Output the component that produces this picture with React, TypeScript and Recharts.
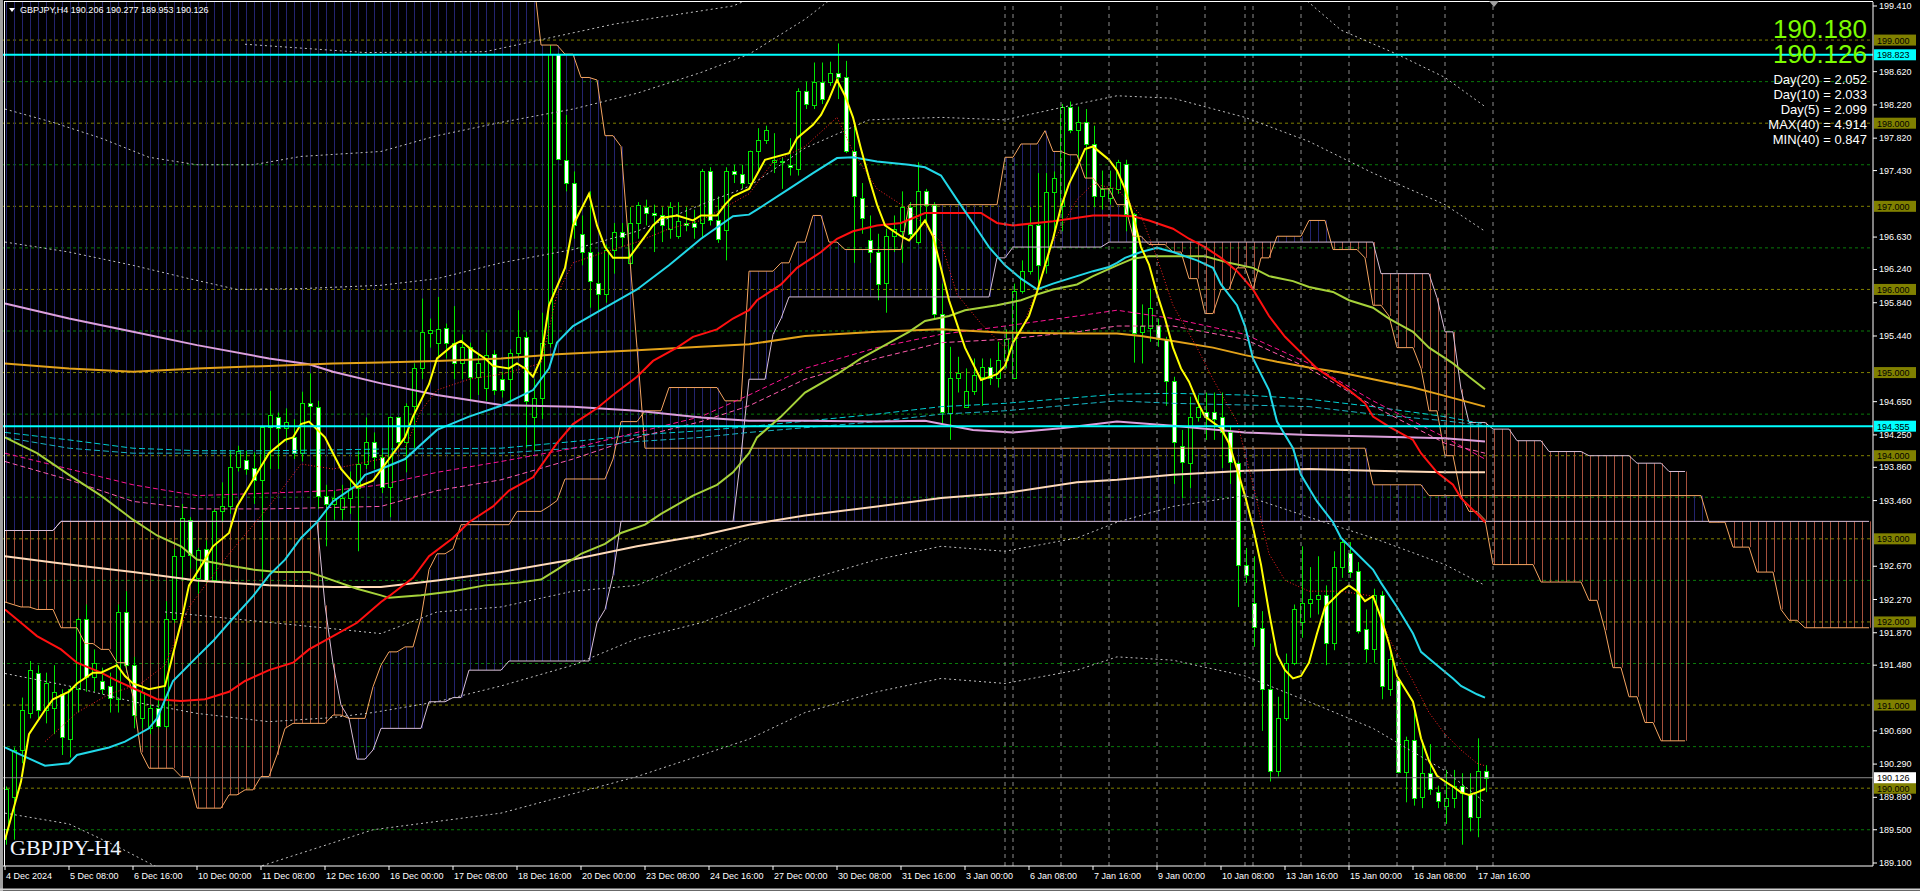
import React from 'react';
import { ComposedChart, Bar, Line, XAxis, YAxis, CartesianGrid, ReferenceLine } from 'recharts';

// GBPJPY H4 candles, bar 0 = 4 Dec 2024 00:00, bar 185 = 17 Jan 20:00
const opens = [
  189.51, 189.89, 190.46, 190.91, 191.39, 190.94, 190.97, 191.13, 190.59, 191.19,
  192.04, 191.34, 191.29, 191.23, 191.07, 192.12, 191.48, 190.84, 190.73, 190.96,
  190.75, 192.04, 192.79, 193.23, 192.53, 192.88, 192.5, 193.34, 193.39, 193.87,
  193.95, 193.85, 193.71, 194.35, 194.47, 194.33, 194.22, 194.03, 194.63, 194.59,
  193.51, 193.42, 193.36, 193.49, 193.61, 193.9, 194.16, 193.98, 193.62, 194.46,
  194.16, 194.6, 195.05, 195.48, 195.35, 195.54, 195.35, 195.11, 195.31, 194.95,
  194.82, 195.22, 194.92, 194.92, 195.24, 195.43, 194.46, 194.7, 195.35, 198.83,
  197.56, 197.28, 196.67, 196.45, 196.08, 195.94, 196.48, 196.69, 196.32, 196.8,
  196.99, 196.92, 196.89, 196.73, 196.64, 196.8, 196.8, 196.8, 197.43, 196.83,
  196.71, 197.42, 197.39, 197.28, 197.67, 197.8, 197.53, 197.53, 197.5, 197.45,
  198.39, 198.22, 198.5, 198.5, 198.6, 198.55, 197.67, 197.1, 196.59, 196.45,
  196.08, 196.64, 196.7, 196.99, 196.57, 197.18, 197.02, 195.7, 194.51, 194.94,
  194.59, 194.78, 194.95, 195.07, 194.93, 195.15, 194.93, 195.98, 196.22, 196.78,
  196.29, 197.17, 197.0, 198.2, 197.92, 198.01, 197.75, 197.12, 197.1, 197.21,
  197.51, 196.91, 195.49, 195.54, 195.57, 195.4, 194.9, 194.12, 193.91, 194.47,
  194.52, 194.52, 194.46, 194.28, 193.91, 192.68, 192.23, 191.93, 191.19, 190.21,
  190.84, 191.51, 192.0, 192.23, 192.28, 192.32, 191.75, 192.66, 192.83, 192.61,
  191.91, 191.67, 192.32, 191.19, 191.3, 190.2, 190.58, 189.9, 190.18, 189.95,
  189.79, 189.88, 190.03, 189.93, 189.65, 190.206,
];
const highs = [
  190.02, 190.49, 191.09, 191.53, 191.48, 191.39, 191.48, 191.19, 191.23, 192.05,
  192.21, 191.67, 191.45, 191.39, 192.21, 192.37, 191.58, 191.19, 191.0, 191.07,
  192.25, 192.88, 193.42, 193.26, 192.89, 192.98, 193.36, 193.68, 194.06, 194.12,
  194.06, 194.04, 194.36, 194.78, 194.52, 194.57, 194.44, 194.77, 194.99, 194.66,
  193.65, 193.58, 193.65, 193.81, 194.06, 194.46, 194.28, 194.09, 194.47, 194.47,
  194.63, 195.11, 195.89, 195.65, 195.91, 195.59, 195.8, 195.46, 195.36, 195.21,
  195.48, 195.27, 195.01, 195.28, 195.75, 195.49, 194.92, 195.72, 198.94, 198.84,
  198.1, 197.42, 196.89, 197.18, 196.45, 196.54, 196.8, 196.8, 196.99, 197.05,
  197.08, 197.02, 196.99, 197.05, 197.05, 196.99, 196.96, 197.45, 197.47, 197.12,
  197.47, 197.5, 197.5, 197.67, 197.94, 197.97, 197.88, 197.59, 197.82, 198.42,
  198.5, 198.73, 198.73, 198.74, 198.96, 198.75, 197.98, 197.28, 196.89, 196.67,
  196.73, 196.89, 197.18, 197.05, 197.53, 197.21, 197.05, 196.07, 195.31, 195.19,
  195.05, 195.17, 195.17, 195.17, 195.37, 195.52, 196.07, 196.35, 196.99, 197.4,
  197.4, 197.42, 198.23, 198.26, 198.2, 198.17, 197.97, 197.43, 197.43, 197.56,
  197.56, 196.92, 195.82, 196.01, 195.65, 195.43, 194.95, 194.31, 194.71, 194.73,
  194.76, 194.76, 194.76, 194.36, 193.93, 192.89, 192.79, 192.13, 191.74, 191.1,
  191.62, 192.21, 192.91, 192.66, 192.79, 192.44, 192.85, 193.0, 192.96, 192.72,
  192.15, 192.4, 192.37, 191.64, 191.32, 190.62, 190.97, 190.56, 190.53, 190.03,
  190.22, 190.22, 190.18, 190.18, 190.6, 190.277,
];
const lows = [
  189.32, 189.38, 190.3, 190.84, 190.84, 190.78, 190.65, 190.4, 190.37, 190.91,
  191.16, 191.16, 191.13, 190.91, 190.91, 191.39, 190.72, 190.72, 190.65, 190.72,
  190.72, 191.99, 192.5, 192.64, 192.34, 192.47, 192.47, 193.2, 193.3, 193.81,
  193.77, 193.42, 192.53, 193.84, 193.84, 194.16, 193.96, 193.93, 194.41, 193.36,
  192.91, 193.23, 193.23, 193.3, 192.85, 193.84, 193.84, 193.55, 193.26, 194.09,
  193.8, 194.09, 194.92, 195.3, 195.17, 195.17, 194.92, 194.92, 194.66, 194.73,
  194.66, 194.73, 194.7, 194.66, 195.17, 194.09, 194.06, 194.44, 195.3, 197.56,
  197.18, 196.61, 196.29, 195.78, 195.75, 195.84, 196.19, 196.51, 196.26, 196.61,
  196.77, 196.45, 196.57, 196.61, 196.61, 196.7, 196.61, 196.63, 196.77, 196.56,
  196.35, 197.28, 197.21, 197.21, 197.43, 197.75, 197.4, 197.21, 197.37, 197.37,
  198.17, 198.17, 198.23, 198.45, 198.29, 197.64, 196.32, 196.67, 196.32, 195.87,
  195.72, 196.45, 196.32, 196.61, 196.54, 196.77, 195.65, 194.38, 194.19, 194.76,
  194.59, 194.73, 194.6, 194.85, 194.82, 195.05, 194.92, 195.95, 196.18, 196.0,
  196.19, 196.64, 196.7, 197.88, 197.56, 197.34, 196.99, 196.96, 197.02, 197.15,
  196.7, 195.12, 195.11, 195.37, 195.31, 194.6, 193.66, 193.49, 193.61, 194.41,
  194.19, 194.19, 193.85, 193.66, 192.18, 192.47, 191.7, 190.69, 190.08, 190.14,
  190.81, 191.48, 191.81, 192.05, 192.09, 191.48, 191.66, 192.53, 192.53, 191.86,
  191.51, 191.51, 191.07, 191.11, 190.18, 189.83, 189.79, 189.76, 189.92, 189.76,
  189.57, 189.76, 189.32, 189.48, 189.41, 189.953,
];
const closes = [
  189.99, 190.46, 190.94, 191.42, 190.94, 191.26, 191.16, 190.62, 191.19, 192.04,
  191.34, 191.51, 191.19, 191.09, 192.12, 191.48, 190.88, 191.16, 190.96, 190.75,
  192.04, 192.79, 193.25, 192.81, 192.87, 192.5, 193.34, 193.39, 193.87, 194.06,
  193.84, 193.71, 194.35, 194.49, 194.33, 194.4, 194.03, 194.63, 194.6, 193.52,
  193.42, 193.49, 193.49, 193.61, 193.9, 194.16, 193.98, 193.62, 194.46, 194.16,
  194.6, 195.05, 195.49, 195.51, 195.52, 195.35, 195.11, 195.31, 194.95, 195.12,
  195.21, 194.79, 194.79, 195.24, 195.43, 194.66, 194.7, 195.35, 198.83, 197.57,
  197.28, 196.77, 196.45, 196.1, 195.95, 196.48, 196.69, 196.63, 196.8, 197.01,
  196.92, 196.89, 196.77, 196.99, 196.82, 196.77, 196.75, 197.42, 196.83, 196.61,
  197.42, 197.39, 197.28, 197.66, 197.8, 197.92, 197.56, 197.55, 197.47, 198.39,
  198.23, 198.5, 198.29, 198.6, 198.56, 197.67, 197.13, 196.86, 196.45, 196.07,
  196.64, 196.73, 196.99, 196.67, 197.18, 197.02, 195.7, 194.52, 194.94, 195.0,
  194.78, 194.97, 195.07, 194.93, 195.15, 195.4, 195.98, 196.22, 196.78, 196.29,
  197.17, 197.34, 198.2, 197.92, 198.01, 197.75, 197.12, 197.21, 197.22, 197.53,
  196.91, 195.48, 195.56, 195.78, 195.4, 194.9, 194.16, 193.93, 194.47, 194.59,
  194.47, 194.44, 194.28, 193.93, 192.69, 192.56, 191.94, 191.19, 190.21, 190.84,
  191.51, 192.15, 192.23, 192.28, 192.32, 191.75, 192.66, 192.96, 192.6, 191.89,
  191.67, 192.32, 191.23, 191.56, 190.2, 190.58, 189.88, 190.18, 189.99, 189.84,
  189.88, 190.03, 189.94, 189.65, 190.21, 190.126,
];

// moving averages, [bar, price]
const fastMa = [[0,189.38],[2,190.08],[3,190.65],[5,190.94],[6,191.07],[8,191.16],[9,191.26],[11,191.39],[12,191.39],[14,191.48],[15,191.35],[16,191.26],[18,191.19],[20,191.23],[21,191.61],[22,191.99],[23,192.44],[25,192.75],[26,192.91],[28,193.07],[29,193.39],[31,193.71],[33,194.03],[35,194.19],[36,194.22],[37,194.38],[38,194.41],[40,194.22],[41,194.03],[42,193.84],[44,193.62],[46,193.7],[48,193.96],[50,194.22],[51,194.47],[53,194.86],[54,195.17],[56,195.33],[57,195.38],[58,195.3],[60,195.17],[61,195.08],[63,195.05],[64,195.11],[65,195.05],[66,194.95],[67,195.17],[68,195.81],[70,196.26],[71,196.77],[73,197.15],[74,196.77],[75,196.51],[76,196.38],[78,196.38],[79,196.51],[81,196.77],[82,196.86],[84,196.89],[86,196.83],[87,196.89],[89,196.89],[90,197.02],[91,197.12],[93,197.21],[95,197.56],[98,197.64],[99,197.82],[101,197.98],[102,198.1],[103,198.29],[104,198.52],[105,198.33],[106,198.07],[107,197.69],[108,197.34],[109,197.02],[110,196.77],[112,196.64],[113,196.59],[114,196.7],[115,196.83],[116,196.64],[118,195.87],[120,195.3],[122,194.91],[124,194.98],[125,195.08],[126,195.36],[128,195.68],[129,195.97],[131,196.61],[132,196.99],[133,197.27],[134,197.47],[135,197.69],[136,197.72],[137,197.64],[138,197.56],[139,197.43],[140,197.21],[141,196.89],[142,196.51],[143,196.3],[144,195.95],[145,195.65],[146,195.3],[147,195.05],[148,194.89],[149,194.66],[150,194.47],[152,194.33],[153,194.15],[154,193.84],[155,193.52],[156,193.14],[157,192.69],[158,192.12],[159,191.61],[160,191.42],[161,191.32],[162,191.35],[163,191.51],[164,191.86],[165,192.18],[167,192.37],[168,192.44],[169,192.37],[170,192.25],[171,192.31],[172,192.05],[173,191.74],[174,191.35],[176,191.04],[177,190.6],[178,190.33],[179,190.15],[180,190.08],[181,190.02],[182,189.95],[183,189.92],[184,189.95],[185,189.99]];
const fastDot = [[5,190.56],[9,190.91],[13,191.13],[17,191.26],[20,191.48],[23,192.18],[28,192.82],[33,193.39],[37,193.9],[41,193.84],[47,193.96],[50,194.09],[52,194.54],[54,194.79],[58,194.92],[62,194.98],[67,195.11],[69,195.94],[71,196.32],[75,196.45],[79,196.57],[83,196.73],[87,196.83],[93,197.15],[96,197.53],[100,197.72],[104,198.07],[106,197.66],[109,197.21],[113,196.96],[117,196.57],[119,195.94],[122,195.59],[125,195.3],[127,195.49],[129,196.0],[131,196.57],[134,197.08],[136,197.27],[139,197.21],[142,196.89],[144,196.38],[146,195.81],[149,195.3],[151,194.92],[154,194.41],[156,193.65],[158,192.82],[160,192.5],[163,192.37],[167,192.37],[171,192.31],[173,191.8],[176,191.29],[178,190.91],[180,190.65],[182,190.46],[184,190.3],[185,190.27]];
const ma20 = [[0,190.49],[2,190.4],[5,190.27],[8,190.3],[9,190.4],[13,190.49],[15,190.56],[18,190.72],[19,190.84],[21,191.29],[24,191.58],[26,191.77],[28,191.99],[31,192.31],[33,192.56],[35,192.75],[37,193.01],[39,193.2],[41,193.45],[44,193.65],[45,193.77],[47,193.84],[50,193.96],[54,194.31],[58,194.47],[62,194.6],[66,194.79],[68,195.05],[69,195.36],[71,195.56],[75,195.78],[79,196.0],[83,196.29],[87,196.61],[91,196.88],[93,196.9],[94,196.96],[98,197.21],[101,197.4],[104,197.58],[106,197.59],[109,197.54],[113,197.5],[115,197.47],[117,197.37],[119,197.08],[121,196.8],[123,196.51],[125,196.29],[127,196.13],[129,196.0],[131,196.07],[134,196.16],[136,196.22],[138,196.27],[139,196.32],[140,196.38],[142,196.45],[144,196.5],[146,196.45],[149,196.35],[151,196.26],[152,196.06],[154,195.81],[155,195.56],[156,195.17],[158,194.79],[159,194.41],[161,194.09],[162,193.77],[164,193.45],[166,193.2],[167,193.01],[169,192.82],[171,192.63],[172,192.47],[174,192.18],[176,191.86],[177,191.64],[179,191.48],[181,191.32],[182,191.23],[184,191.13],[185,191.09]];
const ma50 = [[0,192.15],[2,191.99],[4,191.83],[7,191.67],[9,191.51],[12,191.39],[14,191.29],[17,191.16],[19,191.07],[22,191.05],[25,191.07],[28,191.16],[30,191.29],[33,191.42],[36,191.51],[38,191.67],[41,191.83],[44,191.99],[47,192.24],[48,192.31],[51,192.53],[53,192.79],[56,193.01],[58,193.2],[61,193.39],[63,193.58],[66,193.74],[69,194.15],[71,194.38],[74,194.57],[76,194.73],[79,194.95],[81,195.14],[84,195.3],[86,195.43],[89,195.52],[91,195.65],[93,195.75],[94,195.87],[97,196.06],[99,196.26],[102,196.45],[104,196.61],[106,196.7],[109,196.77],[112,196.8],[115,196.92],[122,196.92],[124,196.8],[126,196.77],[131,196.82],[136,196.89],[139,196.89],[141,196.88],[143,196.83],[146,196.73],[148,196.61],[150,196.51],[152,196.38],[154,196.22],[156,196.0],[158,195.68],[160,195.43],[162,195.24],[164,195.05],[166,194.92],[168,194.79],[170,194.63],[171,194.47],[173,194.35],[176,194.19],[177,194.03],[179,193.8],[181,193.65],[182,193.49],[184,193.3],[185,193.2]];
const ma100 = [[0,194.22],[4,194.03],[8,193.77],[12,193.52],[16,193.23],[19,193.04],[22,192.91],[24,192.75],[28,192.68],[31,192.63],[34,192.6],[38,192.6],[41,192.5],[44,192.4],[47,192.32],[48,192.29],[52,192.32],[56,192.37],[60,192.44],[64,192.47],[67,192.51],[69,192.63],[72,192.82],[75,192.94],[77,193.07],[80,193.17],[82,193.3],[86,193.52],[89,193.65],[91,193.8],[93,194.03],[94,194.22],[97,194.47],[100,194.76],[104,194.98],[107,195.17],[110,195.33],[113,195.49],[115,195.62],[118,195.68],[120,195.75],[124,195.81],[127,195.87],[129,195.94],[131,196.0],[134,196.06],[136,196.16],[139,196.29],[141,196.37],[143,196.4],[150,196.4],[153,196.32],[156,196.26],[158,196.16],[161,196.1],[163,196.03],[166,195.97],[168,195.87],[171,195.78],[173,195.65],[176,195.49],[178,195.3],[181,195.11],[183,194.95],[185,194.8]];
const ma200 = [[0,195.11],[8,195.05],[16,195.01],[24,195.05],[33,195.08],[41,195.11],[47,195.12],[54,195.14],[62,195.17],[69,195.22],[79,195.27],[87,195.31],[93,195.34],[100,195.44],[109,195.49],[117,195.52],[125,195.48],[134,195.47],[139,195.47],[142,195.44],[146,195.38],[151,195.3],[155,195.21],[159,195.13],[163,195.06],[167,195.0],[171,194.92],[176,194.82],[180,194.72],[185,194.59]];
const ma300 = [[0,195.83],[8,195.65],[16,195.49],[24,195.33],[33,195.17],[38,195.1],[41,195.01],[47,194.87],[54,194.73],[62,194.61],[71,194.59],[79,194.54],[87,194.46],[93,194.42],[100,194.42],[109,194.41],[115,194.42],[121,194.31],[126,194.28],[132,194.33],[139,194.41],[146,194.36],[155,194.28],[163,194.25],[171,194.23],[180,194.21],[185,194.17]];
const ma500 = [[0,192.79],[8,192.69],[16,192.6],[24,192.5],[33,192.44],[41,192.42],[47,192.42],[54,192.5],[62,192.6],[71,192.75],[79,192.91],[87,193.04],[93,193.17],[100,193.28],[109,193.39],[117,193.49],[125,193.55],[134,193.68],[139,193.71],[146,193.77],[155,193.82],[163,193.84],[171,193.82],[180,193.8],[185,193.8]];

// envelopes (dashed)
const pinkUp = [[0,194.03],[8,193.84],[16,193.65],[24,193.52],[33,193.55],[41,193.58],[47,193.65],[54,193.8],[62,193.93],[71,194.09],[79,194.28],[87,194.47],[93,194.73],[100,195.05],[109,195.3],[117,195.46],[125,195.56],[134,195.68],[139,195.75],[146,195.65],[155,195.46],[163,195.11],[171,194.66],[180,194.22],[185,193.96]];
const pinkDn = [[0,193.93],[8,193.71],[16,193.45],[24,193.36],[33,193.36],[47,193.39],[54,193.58],[62,193.71],[71,193.96],[79,194.22],[87,194.41],[93,194.6],[100,194.92],[109,195.17],[117,195.36],[125,195.4],[134,195.49],[139,195.56],[146,195.56],[155,195.4],[163,195.05],[171,194.6],[180,194.15],[185,194.03]];
const tealUp = [[0,194.28],[8,194.19],[16,194.09],[24,194.06],[33,194.06],[41,194.07],[47,194.08],[62,194.09],[71,194.17],[79,194.25],[87,194.3],[93,194.35],[109,194.5],[117,194.59],[125,194.63],[134,194.7],[139,194.74],[146,194.75],[155,194.73],[163,194.68],[171,194.59],[180,194.47],[185,194.38]];
const tealDn = [[0,194.22],[8,194.09],[16,194.03],[47,194.03],[62,194.03],[71,194.09],[79,194.17],[87,194.22],[93,194.28],[109,194.41],[117,194.5],[125,194.54],[139,194.66],[146,194.63],[155,194.61],[163,194.59],[171,194.5],[180,194.42],[185,194.36]];

// bands (dotted white)
const bandTop0 = [[30,198.95],[45,198.85],[60,198.86],[76,199.19],[91,199.41],[98,199.7]];
const bandTop1 = [[0,198.17],[6,198.01],[12,197.82],[18,197.59],[24,197.5],[31,197.5],[37,197.6],[47,197.66],[54,197.85],[62,198.01],[71,198.17],[79,198.36],[87,198.61],[93,198.83],[100,199.25],[106,199.7],[160,199.7],[167,199.12],[174,198.83],[180,198.55],[185,198.2]];
const bandTop2 = [[0,196.57],[8,196.45],[16,196.29],[23,196.13],[29,196.0],[37,196.01],[47,196.05],[54,196.13],[62,196.32],[71,196.48],[79,196.7],[87,197.02],[93,197.24],[100,197.7],[108,198.04],[117,198.07],[125,198.04],[134,198.23],[139,198.33],[146,198.3],[155,198.07],[163,197.78],[171,197.4],[180,197.02],[185,196.7]];
const bandLow1 = [[0,191.38],[8,191.23],[16,191.04],[24,190.9],[33,190.8],[41,190.85],[46,190.91],[54,191.04],[62,191.23],[71,191.48],[79,191.8],[87,191.99],[93,192.21],[100,192.5],[109,192.75],[117,192.91],[125,192.85],[134,193.01],[139,193.2],[146,193.39],[155,193.52],[163,193.26],[171,193.01],[180,192.69],[185,192.44]];
const bandLowMid = [[20,192.12],[47,191.86],[54,192.12],[62,192.18],[71,192.37],[79,192.44],[93,193.01]];
const bandLow2 = [[0,189.7],[8,189.57],[14,189.3],[20,189.0],[30,189.0],[38,189.25],[46,189.5],[62,189.7],[79,190.14],[93,190.59],[100,190.91],[109,191.16],[117,191.32],[125,191.26],[134,191.42],[139,191.58],[146,191.54],[155,191.35],[163,191.04],[171,190.72],[180,190.21],[185,189.83]];

// ichimoku spans as [first bar, level] steps
const spanA = [[0,192.24],[1,192.21],[2,192.18],[4,192.15],[7,191.93],[10,191.74],[12,191.67],[14,191.51],[16,191.1],[17,190.43],[18,190.24],[22,190.14],[24,189.76],[28,189.92],[30,189.98],[32,190.14],[34,190.4],[35,190.72],[36,190.78],[41,190.88],[43,190.84],[46,191.22],[47,191.48],[48,191.64],[50,191.7],[52,192.05],[53,192.63],[54,192.82],[56,192.88],[57,193.17],[64,193.33],[68,193.39],[69,193.46],[70,193.72],[76,193.96],[77,194.41],[80,194.54],[83,194.82],[90,194.66],[93,196.22],[97,196.32],[99,196.57],[101,196.89],[103,196.57],[105,196.48],[113,197.02],[125,197.59],[127,197.75],[130,197.91],[131,197.66],[133,197.62],[135,197.34],[137,197.21],[139,197.02],[141,196.64],[143,196.54],[146,196.45],[148,196.13],[150,195.71],[152,196.0],[154,196.26],[156,196.0],[157,196.38],[159,196.64],[163,196.83],[166,196.48],[170,196.38],[171,195.81],[173,195.68],[174,195.3],[177,195.05],[178,194.54],[180,194.0],[182,193.52],[183,193.33],[185,193.23],[186,192.69],[192,192.48],[198,192.26],[200,191.9],[201,191.45],[203,191.1],[205,190.79],[207,190.57]];
const spanB = [[0,193.1],[7,193.21],[40,192.2],[41,191.5],[42,191.0],[43,190.84],[44,190.35],[46,190.46],[47,190.72],[53,191.04],[56,191.09],[58,191.42],[63,191.53],[74,191.99],[75,192.15],[76,192.56],[77,193.21],[92,194.0],[93,194.92],[96,195.46],[97,195.65],[98,195.91],[124,196.38],[126,196.51],[138,196.57],[172,196.19],[179,195.9],[180,195.49],[182,194.8],[183,194.4],[186,194.32],[189,194.18],[193,194.05],[198,194.0],[204,193.91],[208,193.81]];
const longSpanA = [[0,200.5],[66,199.8],[67,198.94],[70,198.83],[72,198.55],[74,198.52],[75,197.85],[77,197.72],[78,196.5],[79,195.3],[80,194.09],[171,193.65],[178,193.52],[213,193.2],[216,192.9],[219,192.6],[222,192.15],[223,192.02],[225,191.93]];
const longSpanB = [[0,193.1],[7,193.21]];

const xTickBars = [0, 8, 16, 24, 32, 40, 48, 56, 64, 72, 80, 88, 96, 104, 112, 120, 128, 136, 144, 152, 160, 168, 176, 184];
const xLabels = ['4 Dec 2024', '5 Dec 08:00', '6 Dec 16:00', '10 Dec 00:00', '11 Dec 08:00', '12 Dec 16:00', '16 Dec 00:00', '17 Dec 08:00', '18 Dec 16:00', '20 Dec 00:00', '23 Dec 08:00', '24 Dec 16:00', '27 Dec 00:00', '30 Dec 08:00', '31 Dec 16:00', '3 Jan 00:00', '6 Jan 08:00', '7 Jan 16:00', '9 Jan 00:00', '10 Jan 08:00', '13 Jan 16:00', '15 Jan 00:00', '16 Jan 08:00', '17 Jan 16:00'];
const yTicks = [199.41, 198.62, 198.22, 197.82, 197.43, 196.63, 196.24, 195.84, 195.44, 194.65, 194.25, 193.86, 193.46, 192.67, 192.27, 191.87, 191.48, 190.69, 190.29, 189.89, 189.5, 189.1];
const wholeLevels = [199, 198, 197, 196, 195, 194, 193, 192, 191, 190];
const halfLevels = [198.5, 197.5, 196.5, 195.5, 194.5, 193.5, 192.5, 191.5, 190.5, 189.5];
const separatorBars = [125, 126, 132, 138, 144, 150, 155, 156, 162, 168, 174, 180, 186];
const statLines = ['Day(20) = 2.052', 'Day(10) = 2.033', 'Day(5) = 2.099', 'MAX(40) = 4.914', 'MIN(40) = 0.847'];

const FONT = "'Liberation Sans', Arial, sans-serif";
const GREEN = '#00e600';
const BLUE_HATCH = '#24246e';
const BROWN_HATCH = '#a5513d';
const BARS = 234;

const lineSeries = [
  { key: 'bandTop0', pts: bandTop0, color: '#c0c0c0', width: 1, dash: '2 3' },
  { key: 'bandTop1', pts: bandTop1, color: '#c0c0c0', width: 1, dash: '2 3' },
  { key: 'bandTop2', pts: bandTop2, color: '#c0c0c0', width: 1, dash: '2 3' },
  { key: 'bandLow1', pts: bandLow1, color: '#c0c0c0', width: 1, dash: '2 3' },
  { key: 'bandLowMid', pts: bandLowMid, color: '#c0c0c0', width: 1, dash: '2 3' },
  { key: 'bandLow2', pts: bandLow2, color: '#c0c0c0', width: 1, dash: '2 3' },
  { key: 'tealUp', pts: tealUp, color: '#00ced1', width: 1, dash: '6 3' },
  { key: 'tealDn', pts: tealDn, color: '#18b4c4', width: 1, dash: '6 3' },
  { key: 'pinkUp', pts: pinkUp, color: '#ff1493', width: 1, dash: '5 3' },
  { key: 'pinkDn', pts: pinkDn, color: '#ff5cad', width: 1, dash: '5 3' },
  { key: 'ma500', pts: ma500, color: '#ffdab9', width: 2 },
  { key: 'ma300', pts: ma300, color: '#dda0dd', width: 2 },
  { key: 'ma200', pts: ma200, color: '#e3a21a', width: 2 },
  { key: 'ma100', pts: ma100, color: '#a6d23a', width: 2 },
  { key: 'ma50', pts: ma50, color: '#ff1010', width: 2 },
  { key: 'ma20', pts: ma20, color: '#22d8e8', width: 2 },
  { key: 'fastDot', pts: fastDot, color: '#ff2020', width: 1, dash: '1 2' },
  { key: 'fastMa', pts: fastMa, color: '#ffff00', width: 2 },
];

function stepAt(runs, i) {
  let v = null;
  for (const [s, val] of runs) {
    if (s <= i) v = val;
    else break;
  }
  return v;
}

const lookups = lineSeries.map((s) => new Map(s.pts));

const rows = Array.from({ length: BARS }, (_, i) => {
  const r: any = { i };
  if (i < opens.length) {
    r.o = opens[i];
    r.h = highs[i];
    r.l = lows[i];
    r.c = closes[i];
    r.candle = [lows[i], highs[i]];
  }
  lineSeries.forEach((s, k) => {
    r[s.key] = lookups[k].has(i) ? lookups[k].get(i) : null;
  });
  if (i <= 210) {
    const a = stepAt(spanA, i);
    const b = stepAt(spanB, i);
    r.spanA = a;
    r.spanB = b;
    r.stdRange = [Math.min(a, b), Math.max(a, b)];
    r.stdColor = a > b ? BLUE_HATCH : BROWN_HATCH;
  }
  const la = stepAt(longSpanA, i);
  const lb = stepAt(longSpanB, i);
  r.longA = la;
  r.longB = lb;
  r.longRange = [Math.min(la, lb), Math.max(la, lb)];
  r.longColor = la > lb ? BLUE_HATCH : BROWN_HATCH;
  return r;
});

function Candle(p: any) {
  const d = p.payload;
  if (!d || d.o == null || p.height == null) return null;
  const top = Math.min(p.y, p.y + p.height);
  const h = Math.abs(p.height);
  const k = h / (d.h - d.l || 1);
  const Y = (v: number) => top + (d.h - v) * k;
  const cx = Math.round(p.x + p.width / 2) + 0.5;
  const bull = d.c >= d.o;
  const y1 = Math.round(Y(Math.max(d.o, d.c))) + 0.5;
  const y2 = Math.round(Y(Math.min(d.o, d.c))) + 0.5;
  return (
    <g>
      <line x1={cx} x2={cx} y1={Y(d.h)} y2={Y(d.l)} stroke={GREEN} strokeWidth={1} />
      {y2 - y1 < 1 ? (
        <line x1={cx - 2.5} x2={cx + 2.5} y1={y1} y2={y1} stroke={bull ? GREEN : '#ffffff'} strokeWidth={1} />
      ) : (
        <rect x={cx - 2} y={y1} width={4} height={y2 - y1} fill={bull ? '#000000' : '#ffffff'} stroke={GREEN} strokeWidth={1} />
      )}
    </g>
  );
}

function hatch(colorKey: string) {
  return (p: any) => {
    const d = p.payload;
    if (!d || p.height == null) return null;
    const top = Math.min(p.y, p.y + p.height);
    const h = Math.abs(p.height);
    const cx = Math.round(p.x + p.width / 2) + 0.5;
    return <line x1={cx} x2={cx} y1={top} y2={top + h} stroke={d[colorKey]} strokeWidth={1} />;
  };
}

function XTick(p: any) {
  const idx = xTickBars.indexOf(p.payload.value);
  return (
    <text x={p.x + 1} y={p.y + 7} fill="#ffffff" fontSize={9} fontFamily={FONT} textAnchor="start">
      {idx >= 0 ? xLabels[idx] : ''}
    </text>
  );
}

function YTick(p: any) {
  return (
    <text x={p.x} y={p.y + 3} fill="#ffffff" fontSize={9} fontFamily={FONT} textAnchor="start">
      {Number(p.payload.value).toFixed(3)}
    </text>
  );
}

function PriceTag(p: any) {
  const vb = p.viewBox || {};
  const x = vb.x + vb.width + 1;
  const y = vb.y;
  return (
    <g>
      <rect x={x} y={y - 5.5} width={42} height={11} fill={p.bg} />
      <text x={x + 3} y={y + 3.5} fontSize={9} fontFamily={FONT} fill={p.fg}>
        {p.text}
      </text>
    </g>
  );
}

export default function App() {
  return (
    <div style={{ position: 'absolute', left: 0, top: 0, width: 1920, height: 891, background: '#000', overflow: 'hidden' }}>
      <ComposedChart width={1920} height={891} data={rows} margin={{ top: 2, right: 2, bottom: 0, left: 1 }}>
        <CartesianGrid horizontalValues={wholeLevels} vertical={false} stroke="#808000" strokeDasharray="3 3" />
        <CartesianGrid horizontalValues={halfLevels} vertical={false} stroke="#0a7a0a" strokeDasharray="3 3" />
        <XAxis
          dataKey="i"
          type="category"
          ticks={xTickBars}
          interval={0}
          tick={<XTick />}
          tickLine={{ stroke: '#ffffff' }}
          tickSize={4}
          axisLine={{ stroke: '#ffffff' }}
          height={25}
        />
        <XAxis xAxisId="lc" dataKey="i" type="category" hide />
        <XAxis xAxisId="sc" dataKey="i" type="category" hide />
        <XAxis xAxisId="cd" dataKey="i" type="category" hide />
        <YAxis
          orientation="right"
          type="number"
          width={45}
          domain={[189.064, 199.458]}
          allowDataOverflow
          ticks={yTicks}
          interval={0}
          tick={<YTick />}
          tickLine={{ stroke: '#ffffff' }}
          tickSize={4}
          tickMargin={2}
          axisLine={{ stroke: '#ffffff' }}
        />

        <Bar xAxisId="lc" dataKey="longRange" barSize={1} shape={hatch('longColor')} isAnimationActive={false} />
        <Bar xAxisId="sc" dataKey="stdRange" barSize={1} shape={hatch('stdColor')} isAnimationActive={false} />

        <Line dataKey="longA" stroke="#f4a460" strokeWidth={1} dot={false} activeDot={false} isAnimationActive={false} />
        <Line dataKey="longB" stroke="#d8bfd8" strokeWidth={1} dot={false} activeDot={false} isAnimationActive={false} />
        <Line dataKey="spanA" stroke="#f4a460" strokeWidth={1} dot={false} activeDot={false} isAnimationActive={false} />
        <Line dataKey="spanB" stroke="#d8bfd8" strokeWidth={1} dot={false} activeDot={false} isAnimationActive={false} />

        <Bar xAxisId="cd" dataKey="candle" barSize={5} shape={Candle} isAnimationActive={false} />

        {lineSeries.map((s) => (
          <Line
            key={s.key}
            dataKey={s.key}
            stroke={s.color}
            strokeWidth={s.width}
            strokeDasharray={s.dash}
            dot={false}
            activeDot={false}
            connectNulls
            isAnimationActive={false}
          />
        ))}

        {separatorBars.map((b) => (
          <ReferenceLine key={'sep' + b} x={b} stroke="#8c8c8c" strokeDasharray="4 4" />
        ))}

        {wholeLevels.map((v) => (
          <ReferenceLine
            key={'lvl' + v}
            y={v}
            stroke="none"
            label={<PriceTag text={v.toFixed(3)} bg="#808000" fg="#000000" />}
          />
        ))}
        <ReferenceLine y={198.823} stroke="#00ffff" strokeWidth={2} label={<PriceTag text="198.823" bg="#00ffff" fg="#000000" />} />
        <ReferenceLine y={194.355} stroke="#00ffff" strokeWidth={2} label={<PriceTag text="194.355" bg="#00ffff" fg="#000000" />} />
        <ReferenceLine y={190.126} stroke="#8a8a8a" strokeWidth={1} label={<PriceTag text="190.126" bg="#ffffff" fg="#000000" />} />
      </ComposedChart>

      <svg width={1920} height={891} style={{ position: 'absolute', left: 0, top: 0, pointerEvents: 'none' }}>
        <rect x={0} y={0} width={3} height={891} fill="#a0a0a0" />
        <line x1={4.5} x2={4.5} y1={1} y2={866} stroke="#ffffff" />
        <line x1={4} x2={1873} y1={1.5} y2={1.5} stroke="#ffffff" />
        <line x1={0} x2={1920} y1={889.5} y2={889.5} stroke="#d0d0d0" strokeWidth={2} />
        <polygon points="1489,1 1499,1 1494,7" fill="#a0a0a0" />
        <polygon points="9,8 15,8 12,12" fill="#ffffff" />
        <text x={20} y={13} fontSize={9} fontFamily={FONT} fill="#ffffff">
          GBPJPY,H4  190.206 190.277 189.953 190.126
        </text>
        <text x={10} y={855} fontSize={22} fontFamily="'Liberation Serif', 'Times New Roman', serif" fill="#eef4ff">
          GBPJPY-H4
        </text>
        <text x={1867} y={38} fontSize={26} fontFamily={FONT} fill="#7cfc00" textAnchor="end">
          190.180
        </text>
        <text x={1867} y={63} fontSize={26} fontFamily={FONT} fill="#7cfc00" textAnchor="end">
          190.126
        </text>
        {statLines.map((t, k) => (
          <text key={t} x={1867} y={84 + k * 15} fontSize={13} fontFamily={FONT} fill="#ffffff" textAnchor="end">
            {t}
          </text>
        ))}
      </svg>
    </div>
  );
}
